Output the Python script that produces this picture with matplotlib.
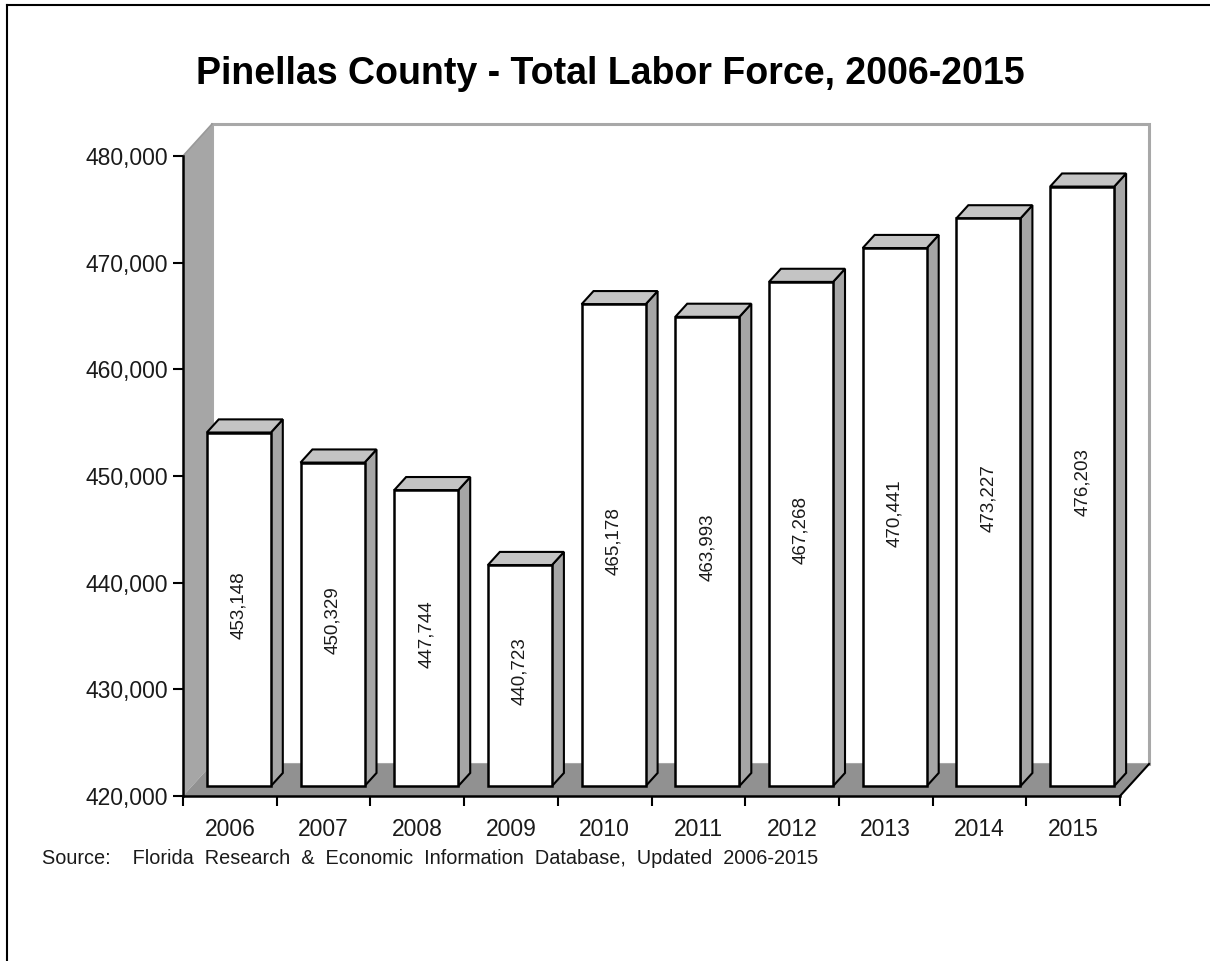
import matplotlib
matplotlib.use('Agg')
import matplotlib.pyplot as plt
from matplotlib.patches import Polygon
from matplotlib.ticker import FuncFormatter, FixedLocator
import numpy as np

plt.rcParams['font.family'] = ['Liberation Sans', 'DejaVu Sans']

# Данные
years = ['2006', '2007', '2008', '2009', '2010', '2011', '2012', '2013', '2014', '2015']
labor_force = [453148, 450329, 447744, 440723, 465178, 463993, 467268, 470441, 473227, 476203]
y_ticks = [420000, 430000, 440000, 450000, 460000, 470000, 480000]

title = "Pinellas County - Total Labor Force, 2006-2015"
source = "Source:    Florida  Research  &  Economic  Information  Database,  Updated  2006-2015"

# Псевдо-3D: сдвиг задней стенки в единицах данных
y_min, y_max = 420000, 480000
DX = 0.31      # по оси категорий
DY = 3000      # по оси значений
z0, z1 = 0.31, 0.72   # глубина столбца
half_w = 0.342

wall_c = '#a6a6a6'
floor_c = '#919191'
top_c = '#c4c4c4'
text_c = '#1a1a1a'


def p(x, y, z):
    return (x + z * DX, y + z * DY)


W, H = 1210, 961
fig = plt.figure(figsize=(W / 100, H / 100), dpi=100)

# рамка области диаграммы (видны только левая и верхняя стороны)
fig.add_artist(plt.Line2D([7 / W, 7 / W], [0, 1 - 5 / H], color='black', lw=1.5))
fig.add_artist(plt.Line2D([7 / W, 1], [1 - 5 / H, 1 - 5 / H], color='black', lw=1.5))

ax = fig.add_axes([183 / W, 1 - 796 / H, (1120 - 183) / W, (796 - 156) / H])
ax.set_xlim(0, len(years))
ax.set_ylim(y_min, y_max)
ax.patch.set_visible(False)

n = len(years)

# задняя стенка
back = Polygon([p(0, y_min, 1), p(n, y_min, 1), p(n, y_max, 1), p(0, y_max, 1)],
               closed=True, facecolor='white', edgecolor='#a8a8a8', lw=2.2,
               clip_on=False, zorder=0.5)
ax.add_patch(back)

# левая стенка
left = Polygon([p(0, y_min, 0), p(0, y_min, 1), p(0, y_max, 1), p(0, y_max, 0)],
               closed=True, facecolor=wall_c, edgecolor='none', clip_on=False, zorder=0.6)
ax.add_patch(left)
ax.plot(*zip(p(0, y_max, 0), p(0, y_max, 1)), color='#999999', lw=1.2, clip_on=False, zorder=0.7)

# пол
floor = Polygon([p(0, y_min, 0), p(n, y_min, 0), p(n, y_min, 1), p(0, y_min, 1)],
                closed=True, facecolor=floor_c, edgecolor='none', clip_on=False, zorder=0.6)
ax.add_patch(floor)
ax.plot(*zip(p(n, y_min, 0), p(n, y_min, 1)), color='black', lw=1.5, clip_on=False, zorder=0.7)

# столбцы
for i, v in enumerate(labor_force):
    c = i + 0.5
    xl, xr = c - half_w, c + half_w
    side = Polygon([p(xr, y_min, z0), p(xr, y_min, z1), p(xr, v, z1), p(xr, v, z0)],
                   closed=True, facecolor=wall_c, edgecolor='black', lw=1.5, clip_on=False, zorder=1)
    top = Polygon([p(xl, v, z0), p(xr, v, z0), p(xr, v, z1), p(xl, v, z1)],
                  closed=True, facecolor=top_c, edgecolor='black', lw=1.5, clip_on=False, zorder=1)
    front = Polygon([p(xl, y_min, z0), p(xr, y_min, z0), p(xr, v, z0), p(xl, v, z0)],
                    closed=True, facecolor='white', edgecolor='black', lw=1.8, clip_on=False, zorder=1.1)
    ax.add_patch(side)
    ax.add_patch(top)
    ax.add_patch(front)
    lx, ly = p(c, (y_min + v) / 2 + 400, z0)
    ax.text(lx, ly, f"{v:,}", rotation=90, ha='center', va='center', fontsize=13.5,
            color=text_c, zorder=2)

# оси
for s in ['top', 'right']:
    ax.spines[s].set_visible(False)
ax.spines['left'].set_linewidth(1.8)
ax.spines['bottom'].set_linewidth(1.8)

ax.set_yticks(y_ticks)
ax.yaxis.set_major_formatter(FuncFormatter(lambda val, pos: f"{int(val):,}"))
ax.tick_params(axis='y', direction='out', length=7, width=1.5, labelsize=16.5, pad=4,
               labelcolor=text_c)

ax.xaxis.set_major_locator(FixedLocator(np.arange(n) + 0.5))
ax.set_xticklabels(years)
ax.xaxis.set_minor_locator(FixedLocator(np.arange(n + 1)))
ax.tick_params(axis='x', which='major', length=0, labelsize=16.5, pad=16, labelcolor=text_c)
ax.tick_params(axis='x', which='minor', direction='out', length=7, width=1.5)

fig.text(610 / W, 1 - 74 / H, title, ha='center', va='center', fontsize=27, fontweight='bold')
fig.text(42 / W, 1 - 859 / H, source, ha='left', va='center', fontsize=14.3, color=text_c)

fig.savefig('out.png', dpi=100)
